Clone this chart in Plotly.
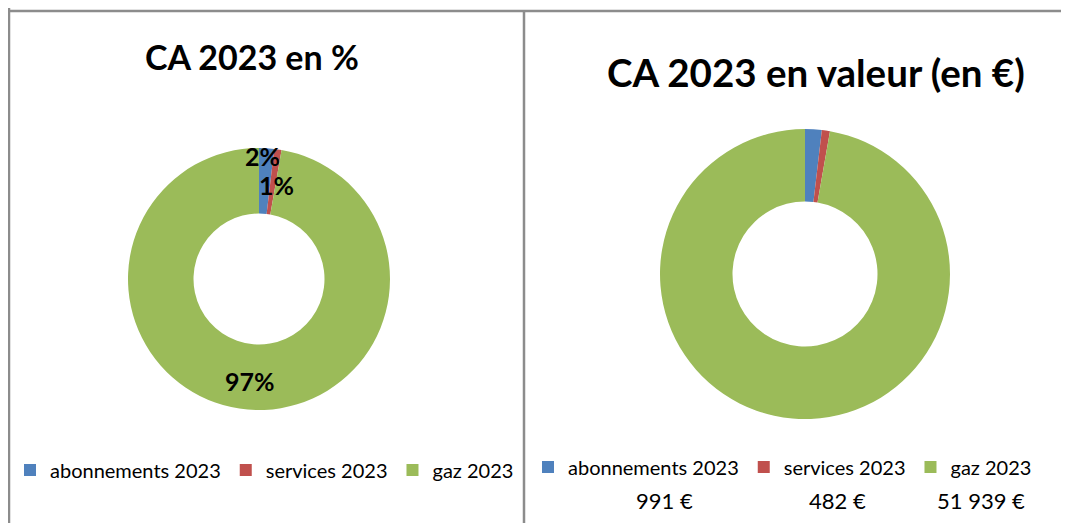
import plotly.graph_objects as go

# CA 2023 split
labels = ["abonnements 2023", "services 2023", "gaz 2023"]
values = [991, 482, 51939]
colors = ["#4F81BD", "#C0504D", "#9BBB59"]

titles = ["CA 2023 en %", "CA 2023 en valeur (en €)"]

# the page body adds an 8px margin, so the figure is drawn 8px in
OFF = 8
W, H = 1069 - OFF, 523 - OFF
FONT = "Lato"


def px(x):
    return (x - OFF) / W


def py(y):
    return 1 - (y - OFF) / H


total = sum(values)
pct = [round(v / total * 100) for v in values]

fig = go.Figure()

# --- left donut: percentages ---
fig.add_trace(go.Pie(
    labels=labels, values=values, hole=0.5, sort=False, direction="clockwise",
    rotation=0, marker=dict(colors=colors, line=dict(width=0)),
    textinfo="none", hoverinfo="label+percent",
    domain=dict(x=[px(128), px(390)], y=[py(410), py(148)]),
    legend="legend",
))

# --- right donut: values in euros (own legend, so labels kept distinct) ---
fig.add_trace(go.Pie(
    labels=[l + "\u200b" for l in labels], values=values, hole=0.5,
    sort=False, direction="clockwise",
    rotation=0, marker=dict(colors=colors, line=dict(width=0)),
    textinfo="none", hoverinfo="label+value",
    domain=dict(x=[px(660), px(950)], y=[py(419), py(129)]),
    legend="legend2",
))

# percentage labels (placed like Excel's best-fit)
pct_pos = [(262, 156), (276, 185), (250, 381)]
for p, (x, y) in zip(pct, pct_pos):
    fig.add_annotation(x=px(x), y=py(y), xref="paper", yref="paper",
                       xanchor="center", yanchor="middle",
                       text=f"<b>{p}%</b>", showarrow=False,
                       font=dict(family=FONT, size=25, color="#000000"))


# euro values under the right legend
def euro(v):
    return f"{v:,}".replace(",", " ") + " €"


val_right = [695, 868, 1027]
for v, x in zip(values, val_right):
    fig.add_annotation(x=px(x), y=py(500), xref="paper", yref="paper",
                       xanchor="right", yanchor="middle", text=euro(v),
                       showarrow=False,
                       font=dict(family=FONT, size=22, color="#000000"))

# chart titles
fig.add_annotation(x=px(252), y=py(57), xref="paper", yref="paper",
                   xanchor="center", yanchor="middle",
                   text=f"<b>{titles[0]}</b>", showarrow=False,
                   font=dict(family=FONT, size=34, color="#000000"))
fig.add_annotation(x=px(816), y=py(72), xref="paper", yref="paper",
                   xanchor="center", yanchor="middle",
                   text=f"<b>{titles[1]}</b>", showarrow=False,
                   font=dict(family=FONT, size=38.5, color="#000000"))

# frame lines of the two chart boxes
line = dict(color="#8C8C8C", width=2.5)
fig.add_shape(type="line", xref="paper", yref="paper",
              x0=px(9), x1=1, y0=py(11), y1=py(11), line=line)
fig.add_shape(type="line", xref="paper", yref="paper",
              x0=px(9), x1=px(9), y0=0, y1=1, line=line)
fig.add_shape(type="line", xref="paper", yref="paper",
              x0=px(524), x1=px(524), y0=0, y1=py(11), line=line)

leg_font = dict(family=FONT, size=20, color="#000000")
fig.update_layout(
    width=W, height=H,
    margin=dict(l=0, r=0, t=0, b=0),
    paper_bgcolor="white", plot_bgcolor="white",
    legend=dict(orientation="h", x=px(10), y=py(470), xanchor="left",
                yanchor="middle", font=leg_font, bgcolor="rgba(0,0,0,0)"),
    legend2=dict(orientation="h", x=px(528), y=py(467), xanchor="left",
                 yanchor="middle", font=leg_font, bgcolor="rgba(0,0,0,0)"),
)

fig.write_html("out.html")
